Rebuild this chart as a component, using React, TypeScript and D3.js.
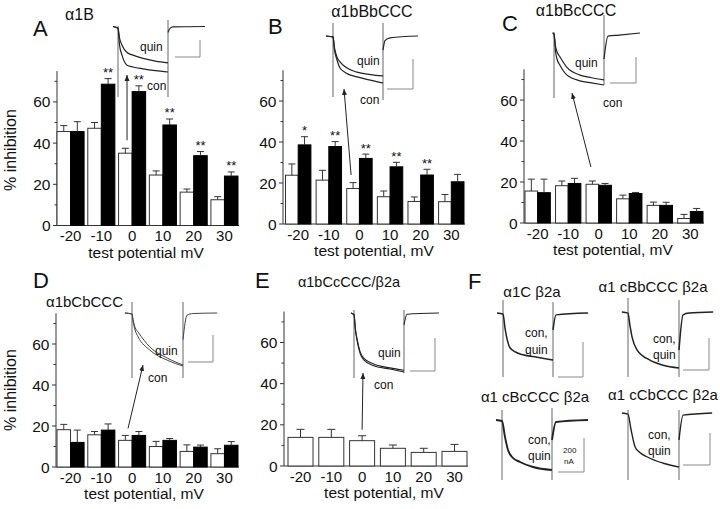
import React from 'react';
import * as d3 from 'd3';

const FONT = '"Liberation Sans", Arial, Helvetica, sans-serif';

// ---------- shared axis values ----------
const potentials = ['-20', '-10', '0', '10', '20', '30'];
const majorTicks = [0, 20, 40, 60];
const minorTicks = [10, 30, 50, 70];

// ---------- bar data (% inhibition) ----------
const aWhite = [45.6, 47.2, 35.1, 24.5, 16.2, 12.5];
const aWhiteErr = [2.9, 2.8, 2.4, 2.0, 1.5, 1.5];
const aBlack = [45.6, 68.6, 65.0, 48.8, 33.9, 24.0];
const aBlackErr = [4.8, 2.7, 2.8, 2.9, 2.0, 2.0];
const aStars = ['', '**', '**', '**', '**', '**'];

const bWhite = [23.8, 21.4, 17.3, 13.3, 11.0, 10.9];
const bWhiteErr = [5.5, 4.8, 2.9, 2.8, 2.2, 3.5];
const bBlack = [38.6, 37.8, 32.0, 27.9, 23.9, 20.6];
const bBlackErr = [4.0, 2.4, 2.1, 2.2, 2.8, 3.6];
const bStars = ['*', '**', '**', '**', '**', ''];

const cWhite = [15.6, 18.2, 18.9, 11.8, 8.6, 2.2];
const cWhiteErr = [5.8, 2.3, 1.6, 1.8, 1.6, 2.0];
const cBlack = [14.8, 19.3, 18.4, 14.4, 8.6, 5.6];
const cBlackErr = [6.6, 2.5, 0.9, 0.5, 1.5, 1.5];

const dWhite = [18.2, 15.7, 13.0, 10.0, 7.6, 6.5];
const dWhiteErr = [2.6, 1.6, 2.4, 2.5, 3.2, 2.4];
const dBlack = [12.0, 18.0, 15.4, 13.0, 9.7, 10.6];
const dBlackErr = [6.0, 3.0, 1.9, 0.9, 1.0, 1.8];

const eWhite = [13.9, 13.9, 12.3, 8.6, 6.6, 7.1];
const eWhiteErr = [3.9, 3.9, 2.4, 1.6, 2.0, 3.4];

// ---------- current traces: [time (0 = step on, 1 = step off), current (0 = rest, 1 = control end)] ----------
const aCon = [[-0.1, 0], [0, 0.04], [0.03, 0.4], [0.08, 0.63], [0.18, 0.85], [0.3, 0.89], [0.5, 0.93], [0.75, 0.97], [1, 1]];
const aQuin = [[-0.1, 0], [0, 0.04], [0.03, 0.25], [0.08, 0.41], [0.18, 0.57], [0.3, 0.63], [0.5, 0.7], [0.75, 0.76], [1, 0.8]];
const aTail = [[1, 0.13], [1.04, 0.04], [1.1, 0.01], [1.74, 0]];

const bCon = [[-0.14, 0], [0, 0.02], [0.03, 0.3], [0.08, 0.51], [0.14, 0.68], [0.25, 0.78], [0.48, 0.87], [0.75, 0.94], [1, 1]];
const bQuin = [[-0.14, 0], [0, 0.02], [0.03, 0.25], [0.08, 0.45], [0.14, 0.55], [0.25, 0.66], [0.48, 0.77], [0.75, 0.82], [1, 0.85]];
const bTail = [[1, 0.3], [1.04, 0.1], [1.14, 0.04], [1.7, 0]];

const cCon = [[-0.03, 0], [0, 0.02], [0.03, 0.35], [0.06, 0.5], [0.12, 0.62], [0.25, 0.8], [0.52, 0.92], [0.75, 0.96], [1, 1]];
const cQuin = [[-0.03, 0], [0, 0.02], [0.03, 0.25], [0.06, 0.36], [0.12, 0.46], [0.25, 0.65], [0.52, 0.81], [0.75, 0.86], [1, 0.9]];
const cTail = [[1, 0.5], [1.08, 0.06], [1.3, 0.04], [1.72, 0]];

const dCon = [[-0.14, 0], [0, 0.02], [0.02, 0.15], [0.06, 0.32], [0.12, 0.45], [0.35, 0.7], [0.69, 0.89], [1, 1]];
const dQuin = [[-0.14, 0], [0, 0.02], [0.02, 0.12], [0.06, 0.27], [0.12, 0.36], [0.35, 0.64], [0.69, 0.85], [1, 0.98]];
const dTail = [[1, 0.5], [1.08, 0.04], [1.2, 0.01], [1.67, 0]];

const eCon = [[-0.06, 0], [0, 0.03], [0.03, 0.3], [0.06, 0.46], [0.12, 0.68], [0.2, 0.8], [0.38, 0.89], [0.72, 0.95], [1, 1]];
const eQuin = [[-0.06, 0], [0, 0.03], [0.03, 0.28], [0.06, 0.43], [0.12, 0.65], [0.2, 0.77], [0.38, 0.86], [0.72, 0.93], [1, 0.97]];
const eTail = [[1, 0.2], [1.06, 0.02], [1.7, 0]];

const f1Trace = [[-0.12, 0], [0, 0.02], [0.04, 0.32], [0.14, 0.74], [0.25, 0.83], [0.4, 0.89], [0.68, 0.94], [1, 1]];
const f1Tail = [[1, 0.36], [1.06, 0.04], [1.7, 0]];
const f2Trace = [[-0.12, 0], [0, 0.02], [0.04, 0.25], [0.08, 0.45], [0.18, 0.68], [0.43, 0.86], [0.69, 0.95], [1, 1]];
const f2Tail = [[1, 0.68], [1.08, 0.05], [1.2, 0.02], [1.67, 0]];
const f3Trace = [[-0.12, 0], [0, 0.02], [0.06, 0.34], [0.12, 0.6], [0.2, 0.74], [0.36, 0.84], [0.62, 0.94], [1, 1]];
const f3Tail = [[1, 0.4], [1.08, 0.04], [1.72, 0]];
const f4Trace = [[-0.12, 0], [0, 0.02], [0.06, 0.31], [0.14, 0.63], [0.22, 0.72], [0.37, 0.81], [0.69, 0.93], [1, 1]];
const f4Tail = [[1, 0.5], [1.08, 0.04], [1.65, 0]];

// ---------- components ----------
type PanelCfg = {
  axisX: number; band: [number, number]; pad: number; yRange: [number, number];
  xLabel: string; xLabelX: number;
  yLabelY?: number;
  title: string; titleX: number; titleY: number; titleSize: number; titleAnchor: string;
  letter: string; letterX: number; letterY: number;
};

type ArrowCfg = { dx: number; gap: number; head: [number, number] };

function BarPanel(props: {
  cfg: PanelCfg; white: number[]; whiteErr: number[]; black?: number[]; blackErr?: number[];
  stars?: string[]; arrow: ArrowCfg;
}) {
  const { cfg, white, whiteErr, black, blackErr, stars, arrow } = props;
  const x = d3.scaleBand<string>().domain(potentials).range(cfg.band).paddingInner(cfg.pad).paddingOuter(0);
  const y = d3.scaleLinear().domain([0, 75]).range(cfg.yRange);
  const bw = x.bandwidth();
  const paired = !!black;
  const wW = paired ? bw / 2 : bw;
  const y0 = y(0);
  const cap = paired ? 3.5 : 4;
  const errBar = (cx: number, v: number, e: number, key: string) => (
    <g key={key} stroke="#333" strokeWidth={1}>
      <line x1={cx} x2={cx} y1={y(v)} y2={y(v + e)} />
      <line x1={cx - cap} x2={cx + cap} y1={y(v + e)} y2={y(v + e)} />
    </g>
  );
  const zeroIdx = potentials.indexOf('0');
  const ax = (x(potentials[zeroIdx]) as number) + wW / 2 + arrow.dx;
  const ay = y(white[zeroIdx] + whiteErr[zeroIdx]) - arrow.gap;
  return (
    <g fontFamily={FONT}>
      {/* y axis */}
      <line x1={cfg.axisX} x2={cfg.axisX} y1={y(0)} y2={y(75)} stroke="#333" strokeWidth={1} />
      {majorTicks.map((t) => (
        <g key={'M' + t}>
          <line x1={cfg.axisX - 4} x2={cfg.axisX} y1={y(t)} y2={y(t)} stroke="#333" strokeWidth={1} />
          <text x={cfg.axisX - 6.5} y={y(t) + 5.5} textAnchor="end" fontSize={15.5} fill="#111">{t}</text>
        </g>
      ))}
      {minorTicks.map((t) => (
        <line key={'m' + t} x1={cfg.axisX - 2.5} x2={cfg.axisX} y1={y(t)} y2={y(t)} stroke="#333" strokeWidth={1} />
      ))}
      {/* x axis */}
      <line x1={cfg.axisX} x2={cfg.band[1] + 1} y1={y0} y2={y0} stroke="#333" strokeWidth={1} />
      {potentials.map((p) => (
        <text key={'xt' + p} x={(x(p) as number) + bw / 2} y={y0 + 15.5} textAnchor="middle" fontSize={15} fill="#111">{p}</text>
      ))}
      <text x={cfg.xLabelX} y={y0 + 32} textAnchor="middle" fontSize={15.5} fill="#111">{cfg.xLabel}</text>
      {cfg.yLabelY !== undefined && (
        <text transform={`translate(16,${cfg.yLabelY}) rotate(-90)`} textAnchor="middle" fontSize={16} fill="#111">% inhibition</text>
      )}
      {/* bars */}
      {potentials.map((p, i) => {
        const bx = x(p) as number;
        return (
          <g key={'bar' + p}>
            <rect x={bx} y={y(white[i])} width={wW} height={y0 - y(white[i])} fill="#fff" stroke="#333" strokeWidth={1} />
            {errBar(bx + wW / 2, white[i], whiteErr[i], 'we' + p)}
            {paired && black && blackErr && (
              <>
                <rect x={bx + wW} y={y(black[i])} width={wW} height={y0 - y(black[i])} fill="#000" stroke="#000" strokeWidth={1} />
                {errBar(bx + wW * 1.5, black[i], blackErr[i], 'be' + p)}
                {stars && stars[i] && (
                  <text x={bx + wW * 1.5} y={y(black[i] + blackErr[i]) - 1.5} textAnchor="middle" fontSize={13} fill="#111">{stars[i]}</text>
                )}
              </>
            )}
          </g>
        );
      })}
      {/* arrow from bar to inset */}
      <line x1={ax} y1={ay} x2={arrow.head[0]} y2={arrow.head[1]} stroke="#222" strokeWidth={1} markerEnd="url(#arrowHead)" />
      {/* titles */}
      <text x={cfg.titleX} y={cfg.titleY} textAnchor={cfg.titleAnchor as any} fontSize={cfg.titleSize} fill="#111">{cfg.title}</text>
      <text x={cfg.letterX} y={cfg.letterY} fontSize={22} fill="#111">{cfg.letter}</text>
    </g>
  );
}

type InsetCfg = {
  on: number; off: number; base: number; plat: number;
  onLine: [number, number]; offLine: [number, number];
  bar: [number, number, number, number];
  labels: { text: string; x: number; y: number; size?: number }[];
  stroke?: string; width?: number;
};

function Inset(props: { cfg: InsetCfg; traces: number[][][]; tail: number[][] }) {
  const { cfg, traces, tail } = props;
  const tx = d3.scaleLinear().domain([0, 1]).range([cfg.on, cfg.off]);
  const ty = d3.scaleLinear().domain([0, 1]).range([cfg.base, cfg.plat]);
  const line = d3.line<number[]>().x((d) => tx(d[0])).y((d) => ty(d[1])).curve(d3.curveMonotoneX);
  const stroke = cfg.stroke || '#222';
  const sw = cfg.width || 1.2;
  return (
    <g fontFamily={FONT}>
      <line x1={cfg.on} x2={cfg.on} y1={cfg.onLine[0]} y2={cfg.onLine[1]} stroke="#666" strokeWidth={1} />
      <line x1={cfg.off} x2={cfg.off} y1={cfg.offLine[0]} y2={cfg.offLine[1]} stroke="#666" strokeWidth={1} />
      {traces.map((tr, i) => (
        <path key={i} d={line(tr) || ''} fill="none" stroke={stroke} strokeWidth={sw} />
      ))}
      <path d={line(tail) || ''} fill="none" stroke={stroke} strokeWidth={sw} />
      <path d={`M${cfg.bar[0]},${cfg.bar[3]}H${cfg.bar[1]}V${cfg.bar[2]}`} fill="none" stroke="#888" strokeWidth={1} />
      {cfg.labels.map((l, i) => (
        <text key={i} x={l.x} y={l.y} fontSize={l.size || 12} fill="#111">{l.text}</text>
      ))}
    </g>
  );
}

// ---------- layout ----------
const cfgA: PanelCfg = { axisX: 57, band: [57, 238], pad: 0.12, yRange: [225.5, 71], xLabel: 'test potential mV', xLabelX: 146, yLabelY: 150, title: 'α1B', titleX: 65, titleY: 20, titleSize: 16, titleAnchor: 'start', letter: 'A', letterX: 33, letterY: 36 };
const cfgB: PanelCfg = { axisX: 283, band: [285.5, 464], pad: 0.17, yRange: [224, 70.3], xLabel: 'test potential, mV', xLabelX: 374, title: 'α1bBbCCC', titleX: 372, titleY: 17, titleSize: 16, titleAnchor: 'middle', letter: 'B', letterX: 268, letterY: 34 };
const cfgC: PanelCfg = { axisX: 524, band: [525, 703], pad: 0.17, yRange: [223, 69.3], xLabel: 'test potential, mV', xLabelX: 613, title: 'α1bBcCCC', titleX: 576, titleY: 16, titleSize: 16, titleAnchor: 'middle', letter: 'C', letterX: 502, letterY: 31 };
const cfgD: PanelCfg = { axisX: 56, band: [57, 238], pad: 0.12, yRange: [467, 313.25], xLabel: 'test potential, mV', xLabelX: 144, yLabelY: 390, title: 'α1bCbCCC', titleX: 84.5, titleY: 307, titleSize: 15, titleAnchor: 'middle', letter: 'D', letterX: 33, letterY: 288 };
const cfgE: PanelCfg = { axisX: 284, band: [288, 467], pad: 0.188, yRange: [466, 311.6], xLabel: 'test potential, mV', xLabelX: 384, title: 'α1bCcCCC/β2a', titleX: 349, titleY: 287, titleSize: 14.5, titleAnchor: 'middle', letter: 'E', letterX: 255, letterY: 288 };

const insA: InsetCfg = { on: 118, off: 168, base: 26.5, plat: 72, onLine: [26, 97], offLine: [20, 97], bar: [175, 200, 40, 57], labels: [{ text: 'quin', x: 140, y: 50.5 }, { text: 'con', x: 147, y: 89.5 }] };
const insB: InsetCfg = { on: 333, off: 383, base: 36, plat: 83, onLine: [23, 97], offLine: [23, 100], bar: [387, 413, 59, 89], labels: [{ text: 'quin', x: 357, y: 64.5 }, { text: 'con', x: 360, y: 103.5 }] };
const insC: InsetCfg = { on: 554, off: 604, base: 33, plat: 85, onLine: [32, 98], offLine: [15, 85], bar: [610, 636, 57, 83], labels: [{ text: 'quin', x: 575, y: 66.5 }, { text: 'con', x: 603, y: 106.5 }] };
const insD: InsetCfg = { on: 132, off: 183, base: 313, plat: 366, onLine: [302, 378], offLine: [302, 378], bar: [188, 213, 335, 362], labels: [{ text: 'quin', x: 155, y: 354.5 }, { text: 'con', x: 148, y: 381.5 }], stroke: '#444', width: 1 };
const insE: InsetCfg = { on: 354, off: 404, base: 313, plat: 372, onLine: [310, 378], offLine: [310, 373], bar: [410, 435, 338, 371], labels: [{ text: 'quin', x: 378, y: 356.5 }, { text: 'con', x: 374, y: 388.5 }], width: 1.1 };
const insF1: InsetCfg = { on: 503, off: 553, base: 313, plat: 360, onLine: [300, 377], offLine: [302, 377], bar: [558, 583, 342, 377], labels: [{ text: 'con,', x: 525, y: 337 }, { text: 'quin', x: 525, y: 354 }], width: 1.5 };
const insF2: InsetCfg = { on: 628, off: 679, base: 312, plat: 368, onLine: [298, 377], offLine: [300, 377], bar: [683, 709, 338, 370], labels: [{ text: 'con,', x: 653, y: 343 }, { text: 'quin', x: 653, y: 359 }], width: 1.5 };
const insF3: InsetCfg = { on: 502, off: 552, base: 420, plat: 470, onLine: [410, 480], offLine: [408, 480], bar: [558, 584, 438, 472], labels: [{ text: 'con,', x: 528, y: 444 }, { text: 'quin', x: 528, y: 460 }, { text: '200', x: 563, y: 453, size: 8 }, { text: 'nA', x: 564, y: 464, size: 8 }], width: 1.9 };
const insF4: InsetCfg = { on: 628, off: 679, base: 413, plat: 467, onLine: [410, 480], offLine: [410, 480], bar: [683, 710, 433, 465], labels: [{ text: 'con,', x: 648, y: 439 }, { text: 'quin', x: 648, y: 455 }], width: 1.4 };

const fTitles = [
  { text: 'α1C β2a', x: 532, y: 297 },
  { text: 'α1 cBbCCC β2a', x: 653, y: 292 },
  { text: 'α1 cBcCCC β2a', x: 535, y: 402 },
  { text: 'α1 cCbCCC β2a', x: 663, y: 400 },
];

export default function App() {
  return (
    <svg width={720} height={509} viewBox="0 0 720 509" style={{ position: 'absolute', left: 0, top: 0, background: '#fff' }}>
      <defs>
        <marker id="arrowHead" markerUnits="userSpaceOnUse" markerWidth={7} markerHeight={6} refX={6} refY={3} orient="auto">
          <path d="M0,0.5 L6,3 L0,5.5 z" fill="#222" />
        </marker>
      </defs>
      <rect width={720} height={509} fill="#fff" />
      <Inset cfg={insA} traces={[aCon, aQuin]} tail={aTail} />
      <Inset cfg={insB} traces={[bCon, bQuin]} tail={bTail} />
      <Inset cfg={insC} traces={[cCon, cQuin]} tail={cTail} />
      <Inset cfg={insD} traces={[dCon, dQuin]} tail={dTail} />
      <Inset cfg={insE} traces={[eCon, eQuin]} tail={eTail} />
      <Inset cfg={insF1} traces={[f1Trace]} tail={f1Tail} />
      <Inset cfg={insF2} traces={[f2Trace]} tail={f2Tail} />
      <Inset cfg={insF3} traces={[f3Trace]} tail={f3Tail} />
      <Inset cfg={insF4} traces={[f4Trace]} tail={f4Tail} />
      <BarPanel cfg={cfgA} white={aWhite} whiteErr={aWhiteErr} black={aBlack} blackErr={aBlackErr} stars={aStars} arrow={{ dx: 1.7, gap: 8, head: [127, 75] }} />
      <BarPanel cfg={cfgB} white={bWhite} whiteErr={bWhiteErr} black={bBlack} blackErr={bBlackErr} stars={bStars} arrow={{ dx: -2, gap: 7.6, head: [344, 89] }} />
      <BarPanel cfg={cfgC} white={cWhite} whiteErr={cWhiteErr} black={cBlack} blackErr={cBlackErr} arrow={{ dx: -1.5, gap: 14, head: [572, 93] }} />
      <BarPanel cfg={cfgD} white={dWhite} whiteErr={dWhiteErr} black={dBlack} blackErr={dBlackErr} arrow={{ dx: 2.7, gap: 7, head: [143, 365] }} />
      <BarPanel cfg={cfgE} white={eWhite} whiteErr={eWhiteErr} arrow={{ dx: 0, gap: 6, head: [363, 373] }} />
      <text x={468} y={289} fontSize={22} fontFamily={FONT} fill="#111">F</text>
      {fTitles.map((t, i) => (
        <text key={i} x={t.x} y={t.y} textAnchor="middle" fontSize={15} fontFamily={FONT} fill="#111">{t.text}</text>
      ))}
    </svg>
  );
}
